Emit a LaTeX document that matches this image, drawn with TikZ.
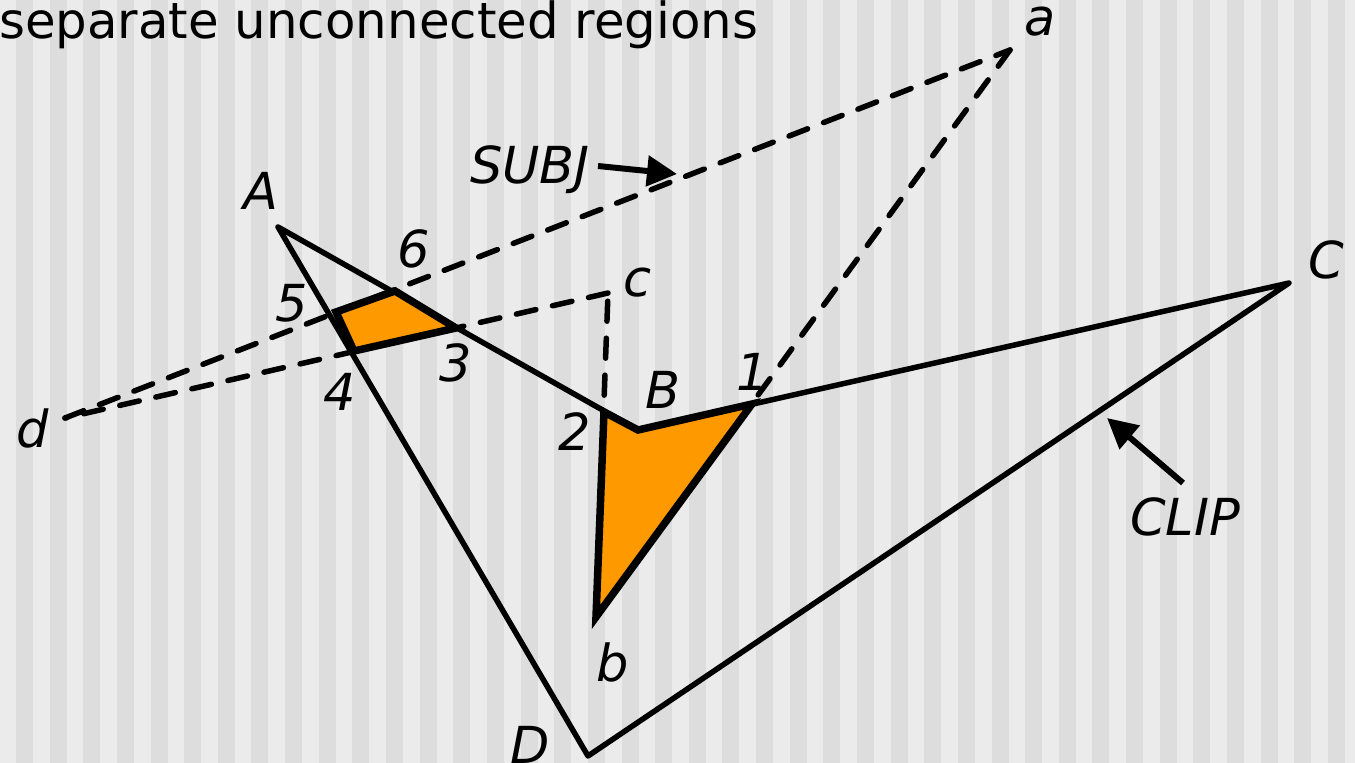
\documentclass[tikz,border=0pt]{standalone}
\usepackage{fontspec}
\setmainfont{DejaVu Sans}
\usetikzlibrary{arrows.meta}
\definecolor{stripeL}{RGB}{235,235,235}
\definecolor{stripeD}{RGB}{221,221,221}
\definecolor{orangefill}{RGB}{255,153,0}
\begin{document}
\begin{tikzpicture}[x=1pt,y=-1pt,
  clipedge/.style={line width=5.5pt, line join=round},
  subjedge/.style={line width=5.5pt, dash pattern=on 20pt off 17pt, line cap=round},
  regionstyle/.style={fill=orangefill, draw=black, line width=7.5pt, line join=miter, miter limit=4},
  lbl/.style={font=\fontsize{51}{60}\selectfont\itshape, inner sep=0pt},
  pointer/.style={line width=6pt, -{Triangle[length=30pt,width=30pt]}}
]
% background with stripes
\fill[stripeL] (0,0) rectangle (1355,763);
\foreach \k in {0,...,39} {
  \fill[stripeD] ({16+33.64*\k},0) rectangle ({33+33.64*\k},763);
}
\useasboundingbox (0,0) rectangle (1355,763);

% clip polygon
\coordinate (A) at (278,227);
\coordinate (B) at (638,430);
\coordinate (C) at (1289,283);
\coordinate (D) at (588,756);
% subject polygon
\coordinate (a) at (1010,50);
\coordinate (b) at (596,617);
\coordinate (c) at (608,293);
\coordinate (d) at (65,418);
% intersection points
\coordinate (p1) at (752,404);
\coordinate (p2) at (604,412);
\coordinate (p3) at (456,328);
\coordinate (p4) at (354,351);
\coordinate (p5) at (336,312);
\coordinate (p6) at (395,291);

\draw[clipedge] (A) -- (B) -- (C) -- (D) -- cycle;
\draw[subjedge] (d) -- (a);
\draw[subjedge] (a) -- (b);
\draw[subjedge] (b) -- (c);
\draw[subjedge] (c) -- (d);

\draw[regionstyle] (p5) -- (p6) -- (p3) -- (p4) -- cycle;
\draw[regionstyle] (p2) -- (B) -- (p1) -- (b) -- cycle;

% title
\node[anchor=base west, font=\fontsize{49.8}{58}\selectfont, inner sep=0pt] (title) at (-1,38) {separate unconnected regions};

% labels
\node[lbl] (la) at (1040,22) {a};
\node[lbl] (lA) at (261,191) {A};
\node[lbl, anchor=base west] (lsubj) at (470,183) {SUBJ};
\node[lbl] (l6) at (414,249) {6};
\node[lbl] (lc) at (638,283) {c};
\node[lbl] (lC) at (1326,260) {C};
\node[lbl] (l5) at (292,303) {5};
\node[lbl] (l3) at (456,363) {3};
\node[lbl] (l4) at (340,392) {4};
\node[lbl] (lB) at (663,390) {B};
\node[lbl] (l1) at (753,372) {1};
\node[lbl] (l2) at (575,432) {2};
\node[lbl] (ld) at (33,428) {d};
\node[lbl] (lb) at (613,662) {b};
\node[lbl] (lD) at (530,745) {D};
\node[lbl] (lclip) at (1185,517) {CLIP};

% pointers
\coordinate (subjtail) at (598,166);
\coordinate (subjtip) at (677,174);
\draw[pointer] (subjtail) -- (subjtip);
\coordinate (cliptail) at (1183,483);
\coordinate (cliptip) at (1107,418);
\draw[pointer] (cliptail) -- (cliptip);
\end{tikzpicture}
\end{document}
